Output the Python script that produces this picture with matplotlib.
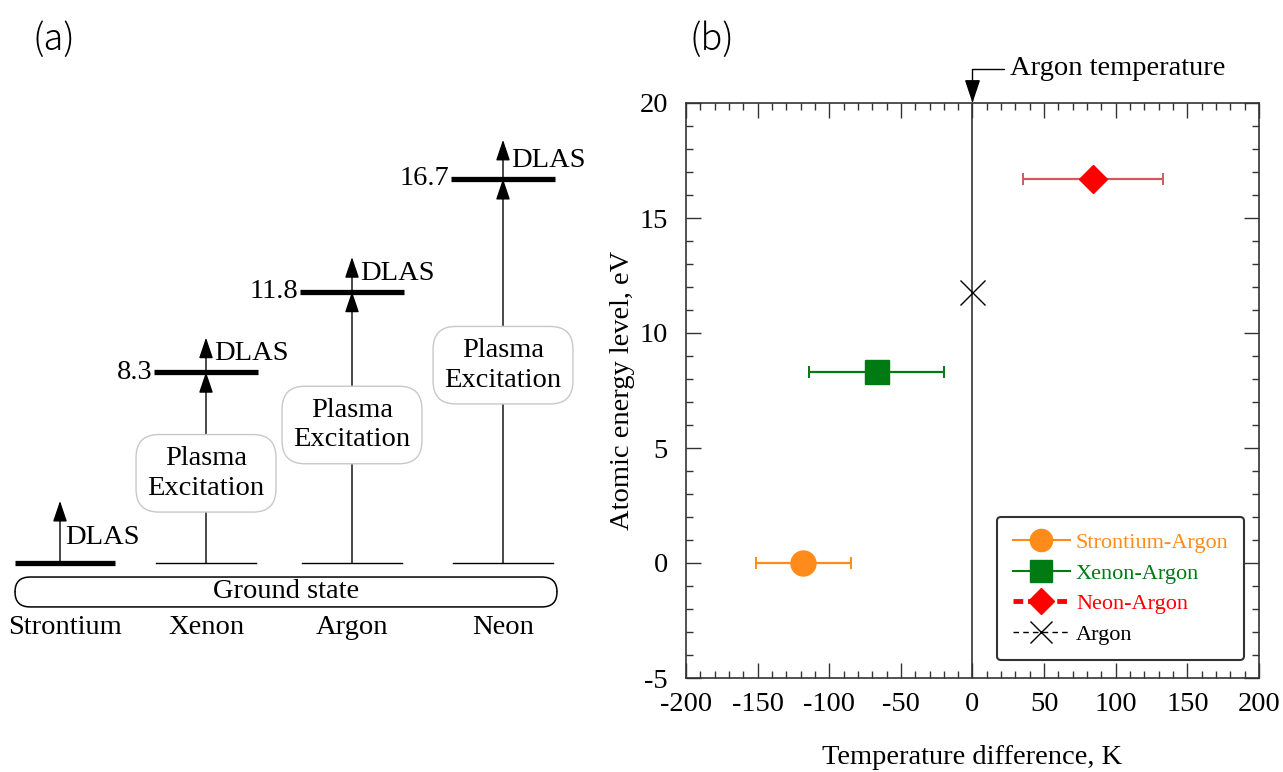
"""
(a) 能级示意图  (b) 温度差 vs 原子能级
"""
import numpy as np
import matplotlib.pyplot as plt
from matplotlib.lines import Line2D
from matplotlib.patches import FancyBboxPatch
from matplotlib.ticker import MultipleLocator

plt.rcParams['font.family'] = ['Liberation Serif', 'DejaVu Serif']
plt.rcParams['axes.unicode_minus'] = False

# 1.数据
elements = ['Strontium', 'Xenon', 'Argon', 'Neon']
levels = [0.0, 8.3, 11.8, 16.7]          # 激发能级 eV
dlas_rise = [2.7, 1.5, 1.5, 1.7]          # DLAS 箭头长度 eV
plasma_y = [None, 3.9, 6.0, 8.6]          # Plasma Excitation 标签位置 eV

pairs = ['Strontium-Argon', 'Xenon-Argon', 'Neon-Argon']
dT = [-118, -67, 84]                      # 温度差 K
dT_err = [33, 47, 49]
energy = [0.0, 8.3, 16.7]
argon_T = 0
argon_E = 11.8

# 2.画布
W, H = 1283, 772
fig = plt.figure(figsize=(W / 100, H / 100), dpi=100)
top, bot = 103, 678
fs_a = 20.5

# ---------------- (a) ----------------
ax_a = fig.add_axes([0, 1 - bot / H, 640 / W, (bot - top) / H])
ax_a.set_xlim(0, 640)
ax_a.set_ylim(-5, 20)
ax_a.axis('off')

col_x = [65, 206, 352, 503]
half = 50
arr_kw = dict(arrowstyle='-|>,head_length=0.8,head_width=0.27', color='k',
              lw=1.0, shrinkA=0, shrinkB=0, mutation_scale=16)

for i, name in enumerate(elements):
    cx = col_x[i]
    lv = levels[i]
    if i == 0:
        # 锶：基态上直接 DLAS
        ax_a.plot([cx - half, cx + half], [lv, lv], color='k', lw=3.8,
                  solid_capstyle='butt')
        ax_a.annotate('', xy=(cx - 5, lv + dlas_rise[i]), xytext=(cx - 5, lv),
                      arrowprops=arr_kw)
        ax_a.text(cx, lv + 1.1, 'DLAS', fontsize=fs_a, va='center', ha='left')
    else:
        ax_a.plot([cx - half, cx + half], [0, 0], color='k', lw=1.0)
        ax_a.annotate('', xy=(cx, lv), xytext=(cx, 0), arrowprops=arr_kw)
        ax_a.plot([cx - half - 2, cx + half + 2], [lv, lv], color='k', lw=3.8,
                  solid_capstyle='butt')
        ax_a.annotate('', xy=(cx, lv + dlas_rise[i]), xytext=(cx, lv),
                      arrowprops=arr_kw)
        ax_a.text(cx + 8, lv + 0.8, 'DLAS', fontsize=fs_a, va='center',
                  ha='left')
        ax_a.text(cx - half - 4, lv, '%.1f' % lv, fontsize=fs_a, va='center',
                  ha='right')
        ax_a.text(cx, plasma_y[i], 'Plasma\nExcitation', fontsize=fs_a,
                  ha='center', va='center', linespacing=1.25,
                  bbox=dict(boxstyle='round,pad=0.4,rounding_size=0.8',
                            fc='white', ec='#c8c8c8', lw=1.0))
    ax_a.text(cx, -2.8, name, fontsize=fs_a, ha='center', va='center')

# 基态框
gs = FancyBboxPatch((15, -1.91), 542, 1.30,
                    boxstyle='round,pad=0,rounding_size=15',
                    mutation_aspect=1 / 23, fc='white', ec='k', lw=1.1,
                    clip_on=False)
ax_a.add_patch(gs)
ax_a.text(286, -1.26, 'Ground state', fontsize=fs_a, ha='center',
          va='center')

fig.text(54 / W, 1 - 40 / H, '(a)', fontsize=26, ha='center', va='center',
         family=['Noto Sans CJK JP', 'DejaVu Sans'], fontweight='light')
fig.text(712 / W, 1 - 40 / H, '(b)', fontsize=26, ha='center', va='center',
         family=['Noto Sans CJK JP', 'DejaVu Sans'], fontweight='light')

# ---------------- (b) ----------------
ax = fig.add_axes([686 / W, 1 - bot / H, (1259 - 686) / W, (bot - top) / H])
ax.set_xlim(-200, 200)
ax.set_ylim(-5, 20)
ax.xaxis.set_major_locator(MultipleLocator(50))
ax.xaxis.set_minor_locator(MultipleLocator(10))
ax.yaxis.set_major_locator(MultipleLocator(5))
ax.yaxis.set_minor_locator(MultipleLocator(1))
ax.tick_params(which='both', direction='in', top=True, right=True,
               labelsize=20.5, width=1.0, color='#333333')
ax.tick_params(which='major', length=11)
ax.tick_params(which='minor', length=5)
ax.tick_params(axis='x', pad=10)
ax.tick_params(axis='y', pad=13)
for s in ax.spines.values():
    s.set_linewidth(1.2)
    s.set_color('#333333')

ax.axvline(argon_T, color='#333333', lw=1.2, zorder=1)

colors = ['#FF8C1A', '#007A12', '#FF0000']
ecolors = ['#FF8C1A', '#007A12', '#CD5C5C']
markers = ['o', 's', 'D']
msizes = [18, 17, 14]
for i in range(3):
    eb = ax.errorbar(dT[i], energy[i], xerr=dT_err[i], fmt=markers[i],
                     color=colors[i], ecolor=ecolors[i], ms=msizes[i],
                     elinewidth=1.6, capsize=4, capthick=1.4, zorder=3)
    if i == 2:
        for c in eb[1]:
            c.set_color('#FF0000')
ax.plot(argon_T, argon_E, marker='x', color='k', ms=18, mew=1.0,
        ls='none', zorder=3)

ax.annotate('Argon temperature', xy=(argon_T, 20), xytext=(26, 21.5),
            textcoords='data', fontsize=20.5, ha='left', va='center',
            annotation_clip=False,
            arrowprops=dict(arrowstyle='-|>,head_length=0.9,head_width=0.3',
                            connectionstyle='angle,angleA=0,angleB=90,rad=0',
                            color='k', lw=1.0, shrinkA=2, shrinkB=0,
                            mutation_scale=16))

ax.set_xlabel('Temperature difference, K', fontsize=20.5, labelpad=20)
ax.set_ylabel('Atomic energy level, eV', fontsize=20.5, labelpad=3)

handles = [
    Line2D([], [], color=colors[0], lw=1.5, marker='o', ms=16),
    Line2D([], [], color=colors[1], lw=1.5, marker='s', ms=16),
    Line2D([], [], color=colors[2], lw=3.5, ls=(0, (2, 1)), marker='D', ms=13),
    Line2D([], [], color='k', lw=1.0, ls=(0, (4, 3)), marker='x', ms=16,
           mew=1.0),
]
leg = ax.legend(handles, pairs + ['Argon'], loc='upper left',
                bbox_to_anchor=(997 / W, 1 - 517 / H),
                bbox_transform=fig.transFigure, borderaxespad=0,
                fontsize=16, handlelength=2.6, handletextpad=0.25,
                labelspacing=0.45, borderpad=0.7, fancybox=True,
                framealpha=1, edgecolor='#333333')
leg.get_frame().set_linewidth(1.5)
for t, c in zip(leg.get_texts(), colors + ['k']):
    t.set_color(c)

fig.savefig('out.png', dpi=100)
